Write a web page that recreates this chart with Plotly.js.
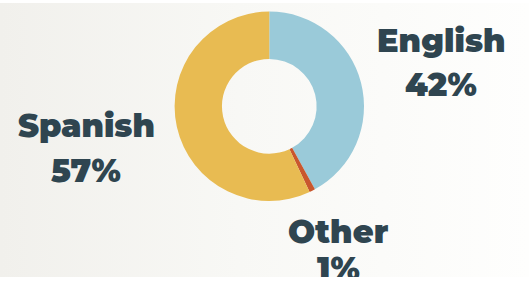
<!DOCTYPE html>
<html>
<head>
<meta charset="utf-8">
<script src="https://cdn.plot.ly/plotly-3.0.1.min.js"></script>
<style>
  html, body { margin: 0; padding: 0; background: #ffffff; width: 529px; height: 282px; overflow: hidden; }
  #chart {
    width: 529px; height: 277px;
    background:
      linear-gradient(#ffffff, #ffffff) top left / 100% 3px no-repeat,
      linear-gradient(to right, #f1f0ec 0%, #f8f8f5 45%, #fefefd 100%);
  }
</style>
</head>
<body>
<div id="chart"></div>
<script>
const labels = ["English", "Other", "Spanish"];
const values = [42, 1, 57];
const colors = ["#9acad9", "#c9572e", "#e8bb52"];

const W = 529, H = 277;
// label line positions (pixel centers of each text line)
const labelPos = {
  "English": {x: 440.5, y1: 40.8, y2: 84.3},
  "Other":   {x: 338,   y1: 231.4, y2: 268.6},
  "Spanish": {x: 86,    y1: 125.9, y2: 170}
};

const textFont = {family: "Montserrat, Inter, 'Open Sans', sans-serif", size: 32, color: "#2f4550", weight: 900};

const annotations = [];
labels.forEach((lab, i) => {
  const p = labelPos[lab];
  annotations.push({
    xref: "paper", yref: "paper", x: p.x / W, y: 1 - p.y1 / H,
    xanchor: "center", yanchor: "middle", showarrow: false,
    text: lab, font: textFont
  });
  annotations.push({
    xref: "paper", yref: "paper", x: p.x / W, y: 1 - p.y2 / H,
    xanchor: "center", yanchor: "middle", showarrow: false,
    text: values[i] + "%", font: textFont
  });
});

const cx = 269.3, cy = 106.3, r = 94.7;
const trace = {
  type: "pie",
  labels: labels,
  values: values,
  marker: {colors: colors, line: {width: 0}},
  hole: 0.5,
  sort: false,
  direction: "clockwise",
  rotation: 0,
  textinfo: "none",
  hoverinfo: "label+percent",
  showlegend: false,
  domain: {
    x: [(cx - r - 20) / W, (cx + r + 20) / W],
    y: [1 - (cy + r) / H, 1 - (cy - r) / H]
  }
};

Plotly.newPlot("chart", [trace], {
  width: W, height: H,
  margin: {l: 0, r: 0, t: 0, b: 0},
  paper_bgcolor: "rgba(0,0,0,0)",
  plot_bgcolor: "rgba(0,0,0,0)",
  showlegend: false,
  annotations: annotations
}, {staticPlot: true, displayModeBar: false});
</script>
</body>
</html>
